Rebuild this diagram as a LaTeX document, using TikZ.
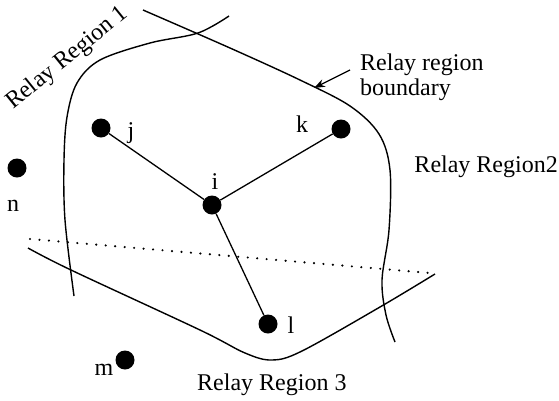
\documentclass[tikz,border=0pt]{standalone}
\usepackage{fontspec}
\setmainfont{Liberation Serif}
\usetikzlibrary{arrows.meta}
\begin{document}
\begin{tikzpicture}[x=1pt,y=-1pt,
  dot/.style={circle,fill=black,inner sep=0pt,minimum size=19pt},
  lbl/.style={font=\fontsize{24}{28}\selectfont,inner sep=0pt},
  bnd/.style={line width=1.4pt},
  edge/.style={line width=1.3pt}]
\useasboundingbox (0,0) rectangle (559,400);
% boundaries
\draw[bnd] plot[smooth,tension=0.55] coordinates {(229,16) (198,33) (150,43) (100,60) (77,83) (67,117) (64,160) (65,220) (74,296)};
\draw[bnd] plot[smooth,tension=0.55] coordinates {(143,10) (230,48) (300,80) (350,106) (379,134) (390,170) (389,230) (382,280) (386,315) (395,342)};
\draw[bnd] plot[smooth,tension=0.55] coordinates {(28,248) (71,270) (200,330) (245,353) (272,360) (302,351) (380,307) (435,274)};
\draw[line width=2.4pt,dash pattern=on 0pt off 9.5pt,line cap=round] (30,239) -- (430,273);
% nodes
\node[dot] (j) at (101,128) {};
\node[dot] (k) at (341,129) {};
\node[dot] (i) at (212,205) {};
\node[dot] (n) at (17,168) {};
\node[dot] (l) at (268,324) {};
\node[dot] (m) at (125,360) {};
\draw[edge] (j) -- (i);
\draw[edge] (k) -- (i);
\draw[edge] (i) -- (l);
% labels
\node[lbl] (tj) at (131,133) {j};
\node[lbl] (tk) at (302,124) {k};
\node[lbl] (ti) at (215,182) {i};
\node[lbl] (tn) at (13,206) {n};
\node[lbl] (tm) at (104,370) {m};
\node[lbl] (tl) at (291,325) {l};
\node[lbl,anchor=base west,rotate=39] (r1) at (13,110) {Relay Region 1};
\node[lbl,anchor=base east] (r2) at (558,172) {Relay Region2};
\node[lbl,anchor=base west] (r3) at (197,390) {Relay Region 3};
\node[lbl,anchor=base west] (rb1) at (360,70) {Relay region};
\node[lbl,anchor=base west] (rb2) at (360,95) {boundary};
\coordinate (ah) at (314,88);
\draw[line width=1.3pt,-{Stealth[length=11pt,width=8pt]}] (350,70) -- (ah);
\end{tikzpicture}
\end{document}
